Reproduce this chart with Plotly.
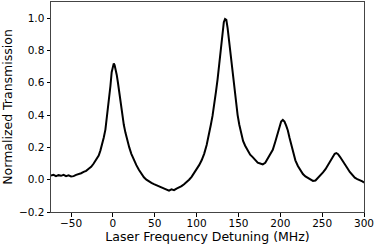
import plotly.graph_objects as go

# Laser frequency detuning (MHz) and normalized transmission
detuning = [-74, -71, -68, -65, -62, -59, -56, -53, -50, -47, -44, -41, -38, -35, -32,
            -29, -26, -23, -20, -17, -15, -13, -11, -9, -7, -5, -3, -1.5, 0, 1, 2, 3,
            4.5, 6, 7.5, 9, 11, 13, 15, 17, 19.5, 22, 25, 28, 31, 34, 37, 40, 43, 46,
            49, 52, 55, 58, 61, 64, 67, 70, 73, 76, 79, 82, 85, 88, 91, 94, 97, 100,
            103, 106, 109, 112, 114.5, 117, 119, 121, 123, 125, 127, 129, 131, 132.5,
            134, 135.5, 137, 139, 141, 143, 145, 147, 149, 151, 153, 155.5, 158, 161,
            164, 167, 170, 173, 176, 179, 182, 185, 188, 191, 194, 196.5, 199, 201,
            203, 205, 207, 209, 211, 213, 215.5, 218, 221, 224, 227, 230, 233, 236,
            239, 242, 245, 248, 251, 254, 257, 260, 262.5, 265, 267, 269, 271.5, 274,
            277, 280, 283, 286, 289, 292, 295, 298, 300]
transmission = [0.025, 0.030, 0.022, 0.028, 0.024, 0.030, 0.022, 0.027, 0.020, 0.022,
                0.030, 0.033, 0.040, 0.048, 0.055, 0.068, 0.080, 0.100, 0.125, 0.150,
                0.180, 0.215, 0.260, 0.310, 0.390, 0.470, 0.580, 0.665, 0.700, 0.720,
                0.710, 0.690, 0.650, 0.600, 0.540, 0.480, 0.410, 0.340, 0.290, 0.245,
                0.200, 0.160, 0.120, 0.090, 0.062, 0.035, 0.015, 0.000, -0.012, -0.020,
                -0.028, -0.035, -0.042, -0.050, -0.055, -0.062, -0.068, -0.060, -0.065,
                -0.055, -0.048, -0.040, -0.028, -0.015, 0.000, 0.018, 0.040, 0.065,
                0.090, 0.120, 0.160, 0.215, 0.270, 0.340, 0.395, 0.460, 0.540, 0.620,
                0.720, 0.820, 0.920, 0.975, 0.995, 0.990, 0.940, 0.850, 0.740, 0.640,
                0.550, 0.470, 0.400, 0.340, 0.290, 0.240, 0.210, 0.180, 0.155, 0.140,
                0.120, 0.105, 0.100, 0.095, 0.105, 0.130, 0.155, 0.185, 0.235, 0.285,
                0.330, 0.360, 0.370, 0.360, 0.335, 0.305, 0.260, 0.215, 0.165, 0.120,
                0.085, 0.055, 0.035, 0.020, 0.010, 0.000, -0.008, -0.005, 0.010, 0.028,
                0.045, 0.065, 0.090, 0.115, 0.140, 0.160, 0.165, 0.158, 0.140, 0.118,
                0.095, 0.072, 0.048, 0.028, 0.012, 0.004, -0.002, -0.010, -0.018]

fig = go.Figure(go.Scatter(x=detuning, y=transmission, mode="lines",
                           line=dict(color="black", width=2), hoverinfo="skip"))

tick_font = dict(family="DejaVu Sans", size=10.5, color="black")
title_font = dict(family="DejaVu Sans", size=12.5, color="black")
axis_common = dict(showline=True, linecolor="#444", linewidth=1, mirror=True,
                   ticks="outside", ticklen=3.5, tickcolor="black", tickwidth=1,
                   showgrid=False, zeroline=False, tickfont=tick_font)

fig.update_layout(
    width=375, height=245,
    margin=dict(l=51, r=11, t=2, b=33),
    paper_bgcolor="white", plot_bgcolor="white",
    showlegend=False,
    font=tick_font,
    xaxis=dict(range=[-74, 300], tickvals=[-50, 0, 50, 100, 150, 200, 250, 300],
               ticklabelstandoff=-2,
               title=dict(text="Laser Frequency Detuning (MHz)", font=title_font, standoff=0),
               **axis_common),
    yaxis=dict(range=[-0.2, 1.1], tickvals=[-0.2, 0.0, 0.2, 0.4, 0.6, 0.8, 1.0],
               tickformat=".1f",
               title=dict(text="Normalized Transmission", font=title_font, standoff=4),
               **axis_common),
)

fig.write_html("out.html", config={"displayModeBar": False},
               post_script="document.body.style.margin='0';document.body.style.overflow='hidden';")
